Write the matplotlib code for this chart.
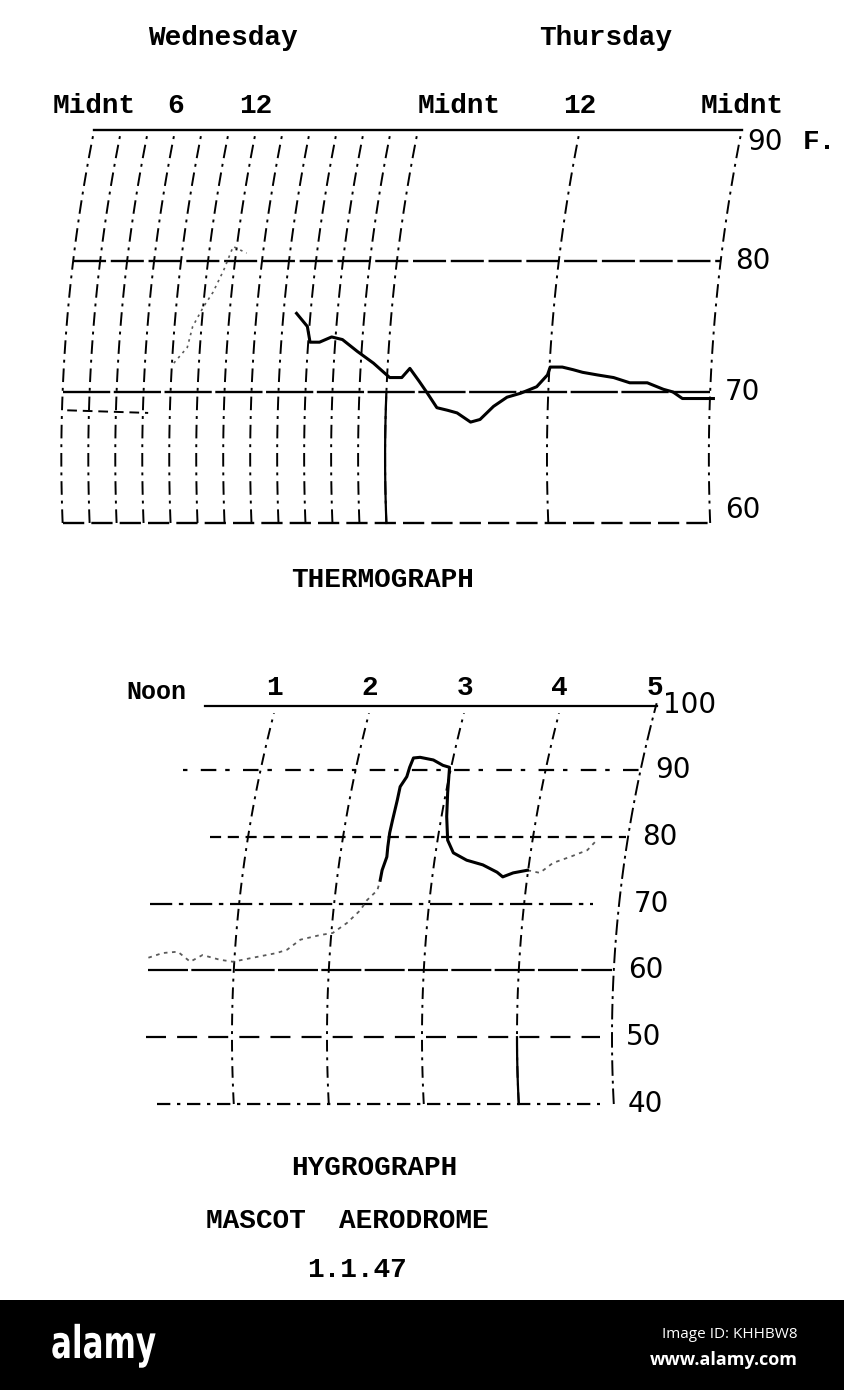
import numpy as np
import matplotlib
matplotlib.use("Agg")
import matplotlib.pyplot as plt
from matplotlib.patches import Rectangle, PathPatch
from matplotlib.textpath import TextPath
from matplotlib.font_manager import FontProperties
from matplotlib.transforms import Affine2D

# ------------------------- data -------------------------
# Thermograph: hours from Wednesday midnight, temperature in deg F
thermo_hours = [15.0, 15.8, 16.0, 16.7, 17.6, 18.4, 19.5, 20.7, 21.9, 22.8, 23.4,
                24.1, 24.7, 25.4, 26.2, 26.9, 27.9, 28.6, 29.6, 30.6, 31.6, 32.8,
                33.6, 33.8, 34.7, 35.5, 36.2, 37.3, 38.5, 39.7, 41.0, 42.2, 42.9,
                43.6, 45.9]
thermo_temps = [76.0, 75.0, 73.8, 73.8, 74.2, 74.0, 73.1, 72.2, 71.1, 71.1, 71.8,
                70.8, 69.9, 68.8, 68.6, 68.4, 67.7, 67.9, 68.9, 69.6, 69.9, 70.4,
                71.3, 71.9, 71.9, 71.7, 71.5, 71.3, 71.1, 70.7, 70.7, 70.2, 70.0,
                69.5, 69.5]
thermo_faint_hours = [5.9, 6.9, 7.3, 8.1, 8.8, 9.6, 10.3, 11.3]
thermo_faint_temps = [72.2, 73.4, 75.0, 76.5, 77.6, 79.3, 81.1, 80.6]
thermo_old_hours = [-2.0, 4.0]
thermo_old_temps = [68.6, 68.4]

thermo_time_lines = [0, 2, 4, 6, 8, 10, 12, 14, 16, 18, 20, 22, 24, 36, 48]
thermo_levels = [90, 80, 70, 60]
thermo_level_labels = ["90", "80", "70", "60"]
thermo_tick_hours = [0, 6, 12, 24, 36, 48]
thermo_tick_labels = ["Midnt", "6", "12", "Midnt", "12", "Midnt"]
day_names = ["Wednesday", "Thursday"]
day_hours = [9.5, 37.9]

# Hygrograph: hours after noon, relative humidity in %
hygro_faint_hours = [0.12, 0.27, 0.43, 0.56, 0.69, 0.87, 1.01, 1.22, 1.47, 1.58,
                     1.72, 1.93, 2.06, 2.21, 2.35, 2.42, 2.53, 2.56]
hygro_faint_rh = [61.9, 62.6, 62.8, 61.3, 62.3, 61.6, 61.3, 61.9, 62.6, 63.1,
                  64.6, 65.3, 65.6, 67.1, 69.0, 70.5, 72.0, 73.5]
hygro_hours = [2.56, 2.58, 2.63, 2.64, 2.66, 2.69, 2.74, 2.77, 2.84, 2.87, 2.91,
               2.98, 3.12, 3.22, 3.29, 3.27, 3.26, 3.27, 3.33, 3.47, 3.64, 3.79,
               3.85, 3.96, 4.11]
hygro_rh = [73.5, 75.0, 77.0, 78.5, 80.6, 82.5, 85.5, 87.5, 89.0, 90.4, 91.8,
            91.9, 91.5, 90.7, 90.4, 86.6, 83.0, 79.5, 77.6, 76.5, 75.8, 74.7,
            74.0, 74.6, 75.0]
hygro_after_hours = [4.11, 4.24, 4.38, 4.56, 4.74, 4.84]
hygro_after_rh = [75.0, 74.6, 76.1, 77.0, 78.0, 79.5]

hygro_time_lines = [1, 2, 3, 4, 5]
hygro_tick_labels = ["1", "2", "3", "4", "5"]
hygro_levels = [100, 90, 80, 70, 60, 50, 40]
hygro_level_labels = ["100", "90", "80", "70", "60", "50", "40"]

# ------------------------- style -------------------------
TYPE = dict(family="Liberation Mono", fontweight="bold", color="black")
NUM = dict(family="DejaVu Sans", color="black")
INK = "black"
FAINT = "#5a5a5a"


def tskew(T):
    # curvature of the recorder-chart time arcs (thermograph), in hours
    T = np.asarray(T, dtype=float)
    return 0.0039 * ((T - 65.0) ** 2 - 625.0)


def hskew(R):
    # curvature of the recorder-chart time arcs (hygrograph), in hours
    R = np.asarray(R, dtype=float)
    return 1.88e-4 * (R - 50.0) ** 2


fig = plt.figure(figsize=(8.44, 13.9), dpi=100)
fig.patch.set_facecolor("white")

# ------------------------- thermograph -------------------------
ax = fig.add_axes([0, 1 - 600 / 1390, 1, 600 / 1390])
ax.set_xlim(-6.983, 55.58)
ax.set_ylim(54.12, 99.92)
ax.axis("off")

Tgrid = np.linspace(60, 90, 80)
for h in thermo_time_lines:
    ax.plot(h + tskew(Tgrid), Tgrid, color=INK, lw=1.4, ls=(0, (7, 3, 1.5, 3)))
# solid lower part of Thursday midnight line
Tlow = np.linspace(60, 70, 20)
ax.plot(24 + tskew(Tlow), Tlow, color=INK, lw=1.6)

level_styles = {90: "-", 80: (0, (14, 2)), 70: (0, (20, 1.5)), 60: (0, (9, 3))}
for T in thermo_levels:
    x0 = thermo_time_lines[0] + float(tskew(T))
    x1 = thermo_time_lines[-1] + float(tskew(T))
    ax.plot([x0, x1], [T, T], color=INK, lw=1.7, ls=level_styles[T])

ax.plot(thermo_old_hours, thermo_old_temps, color=INK, lw=1.4, ls=(0, (5, 3)))
ax.plot(thermo_faint_hours, thermo_faint_temps, color=FAINT, lw=1.2, ls=(0, (1.5, 2.5)))
ax.plot(thermo_hours, thermo_temps, color=INK, lw=2.2, solid_joinstyle="round")

tick_ha = ["center", "center", "center", "left", "center", "center"]
for h, lab, ha in zip(thermo_tick_hours, thermo_tick_labels, tick_ha):
    ax.text(h, 91.8, lab, ha=ha, va="center", fontsize=20, **TYPE)
for h, name in zip(day_hours, day_names):
    ax.text(h, 97.0, name, ha="center", va="center", fontsize=20, **TYPE)

top, bot = max(thermo_levels), min(thermo_levels)
for T, lab in zip(thermo_levels, thermo_level_labels):
    y = T - 0.9 if T == top else (T + 1.0 if T == bot else T)
    x = thermo_time_lines[-1] + float(tskew(T)) + (0.4 if T == top else 1.1)
    ax.text(x, y, lab, ha="left", va="center", fontsize=20, **NUM)
ax.text(thermo_time_lines[-1] + 4.5, top - 0.9, "F.", ha="left", va="center",
        fontsize=20, **TYPE)

# ------------------------- hygrograph -------------------------
bx = fig.add_axes([0, 1 - 1300 / 1390, 1, 700 / 1390])
bx.set_xlim(-1.442, 7.442)
bx.set_ylim(10.66, 115.45)
bx.axis("off")

Rgrid = np.linspace(40, 98.5, 80)
for h in hygro_time_lines:
    R = np.linspace(40, 100, 80) if h == hygro_time_lines[-1] else Rgrid
    ls = (0, (8, 2.5, 1.5, 2.5)) if h == hygro_time_lines[-1] else (0, (6, 3, 1.5, 3))
    bx.plot(h + hskew(R), R, color=INK, lw=1.4, ls=ls)
Rlow = np.linspace(40, 50, 10)
bx.plot(4 + hskew(Rlow), Rlow, color=INK, lw=1.6)

h_start = {100: 0.72, 90: 0.48, 80: 0.77, 70: 0.14, 60: 0.12, 50: 0.10, 40: 0.21}
h_end = {100: 5.47, 90: 5.28, 80: 5.15, 70: 4.80, 60: 5.00, 50: 4.87, 40: 4.87}
h_style = {100: "-", 90: (0, (2, 6, 7, 4)), 80: (0, (5, 3)), 70: (0, (10, 3, 2, 3)),
           60: (0, (18, 1.5)), 50: (0, (9, 5)), 40: (0, (6, 3, 1.5, 3))}
for R in hygro_levels:
    yy = R - (0.4 if R == 100 else 0)
    bx.plot([h_start[R], h_end[R]], [yy, yy], color=INK, lw=1.6, ls=h_style[R])

bx.plot(hygro_faint_hours, hygro_faint_rh, color=FAINT, lw=1.3, ls=(0, (2, 2.5)))
bx.plot(hygro_after_hours, hygro_after_rh, color=FAINT, lw=1.3, ls=(0, (2, 2.5)))
bx.plot(hygro_hours, hygro_rh, color=INK, lw=2.2, solid_joinstyle="round")

bx.text(0.2, 101.7, "Noon", ha="center", va="center", fontsize=18, **TYPE)
for h, lab in zip(hygro_time_lines, hygro_tick_labels):
    bx.text(h + float(hskew(100)) - 0.02, 100.3, lab, ha="center", va="bottom",
            fontsize=20, **TYPE)
for R, lab in zip(hygro_levels, hygro_level_labels):
    if R == 100:
        bx.text(hygro_time_lines[-1] + float(hskew(100)) + 0.07, R - 0.3, lab,
                ha="left", va="center", fontsize=20, **NUM)
    else:
        bx.text(hygro_time_lines[-1] + float(hskew(R)) + 0.15, R, lab,
                ha="left", va="center", fontsize=20, **NUM)

# ------------------------- titles -------------------------
def ftext(px, py, s, **kw):
    fig.text(px / 844, 1 - py / 1390, s, ha="center", va="center", **kw)

ftext(383, 580, "THERMOGRAPH", fontsize=20, **TYPE)
ftext(374, 1168, "HYGROGRAPH", fontsize=20, **TYPE)
ftext(347, 1221, "MASCOT  AERODROME", fontsize=20, **TYPE)
ftext(357, 1270, "1.1.47", fontsize=20, **TYPE)

# ------------------------- watermark band -------------------------
fig.patches.append(Rectangle((0, 0), 1, 90 / 1390, transform=fig.transFigure,
                             facecolor="black", edgecolor="none", zorder=0))
logo_path = TextPath((0, 0), "alamy", size=1,
                     prop=FontProperties(family="DejaVu Sans", weight="bold"))
logo = PathPatch(logo_path, facecolor="white", edgecolor="none",
                 transform=Affine2D().scale(0.69 * 45, 45).translate(51, 1390 - 1358))
fig.add_artist(logo)
fig.text(798 / 844, 1 - 1334 / 1390, "Image ID: KHHBW8", ha="right", va="center",
         color="white", fontsize=11, family="Open Sans")
fig.text(798 / 844, 1 - 1360 / 1390, "www.alamy.com", ha="right", va="center",
         color="white", fontsize=13, family="Open Sans", fontweight="bold")

fig.savefig("out.png", dpi=100, facecolor="white")
